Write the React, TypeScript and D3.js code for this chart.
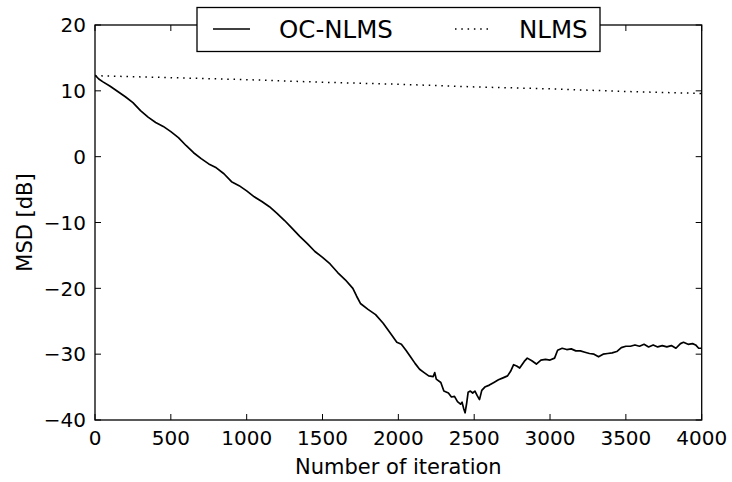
import React from "react";
import * as d3 from "d3";

const ocIter = [0, 25, 50, 100, 150, 200, 250, 300, 350, 400, 450, 500, 550, 600, 650, 700, 750, 800, 850, 900, 950, 1000, 1050, 1100, 1150, 1200, 1250, 1300, 1350, 1400, 1450, 1500, 1550, 1600, 1650, 1700, 1725, 1750, 1800, 1850, 1900, 1950, 1990, 2020, 2050, 2080, 2110, 2140, 2170, 2200, 2230, 2240, 2250, 2280, 2300, 2330, 2350, 2370, 2390, 2410, 2420, 2430, 2440, 2450, 2460, 2475, 2490, 2505, 2520, 2535, 2550, 2570, 2600, 2630, 2660, 2690, 2720, 2740, 2760, 2780, 2800, 2830, 2850, 2880, 2910, 2940, 2970, 3000, 3030, 3050, 3080, 3110, 3140, 3170, 3200, 3230, 3260, 3290, 3320, 3350, 3380, 3410, 3440, 3470, 3500, 3530, 3560, 3590, 3620, 3650, 3680, 3710, 3740, 3770, 3800, 3830, 3860, 3880, 3910, 3940, 3960, 3980, 4000];
const ocMsd = [12.4, 11.8, 11.4, 10.7, 9.9, 9.1, 8.2, 7.0, 6.0, 5.2, 4.6, 3.8, 2.9, 1.7, 0.6, -0.3, -1.1, -1.7, -2.6, -3.8, -4.4, -5.2, -6.1, -6.8, -7.6, -8.6, -9.7, -10.9, -12.1, -13.2, -14.4, -15.3, -16.3, -17.6, -18.7, -20.0, -21.2, -22.3, -23.2, -24.0, -25.3, -26.9, -28.2, -28.5, -29.4, -30.4, -31.4, -32.3, -32.8, -33.3, -33.4, -32.8, -33.8, -34.3, -35.6, -35.9, -36.5, -36.4, -37.2, -37.6, -37.3, -38.2, -38.9, -37.5, -35.8, -35.6, -35.9, -35.6, -36.3, -36.9, -35.5, -35.0, -34.7, -34.3, -33.9, -33.6, -33.3, -32.6, -31.6, -31.8, -32.1, -31.1, -30.6, -31.0, -31.5, -30.9, -30.8, -30.9, -30.6, -29.4, -29.1, -29.3, -29.2, -29.5, -29.5, -29.7, -29.9, -30.0, -30.4, -30.0, -29.9, -29.8, -29.6, -29.0, -28.8, -28.8, -28.6, -28.8, -28.5, -28.9, -28.6, -28.9, -28.7, -28.9, -28.7, -29.1, -28.4, -28.2, -28.5, -28.4, -28.6, -29.1, -29.1];

const nlmsIter = [0, 500, 1000, 1500, 2000, 2500, 3000, 3500, 4000];
const nlmsMsd = [12.3, 12.0, 11.7, 11.3, 11.0, 10.6, 10.3, 9.9, 9.6];

const xTicks = [0, 500, 1000, 1500, 2000, 2500, 3000, 3500, 4000];
const yTicks = [-40, -30, -20, -10, 0, 10, 20];
const seriesNames = ["OC-NLMS", "NLMS"];

const L = 95, R = 701.7, T = 25, B = 420;
const FONT = "'DejaVu Sans', sans-serif";

export default function App() {
  const x = d3.scaleLinear().domain([0, 4000]).range([L, R]);
  const y = d3.scaleLinear().domain([-40, 20]).range([B, T]);
  const line = d3.line<[number, number]>().x(d => x(d[0])).y(d => y(d[1]));
  const ocData: [number, number][] = ocIter.map((v, i) => [v, ocMsd[i]]);
  const nlData: [number, number][] = nlmsIter.map((v, i) => [v, nlmsMsd[i]]);
  const fmt = (v: number) => (v < 0 ? "\u2212" + Math.abs(v) : String(v));
  const tl = 6;
  return (
    <svg width={732} height={482} style={{ position: "absolute", left: 0, top: 0, background: "#fff" }} fontFamily={FONT}>
      <defs>
        <clipPath id="plotclip"><rect x={L} y={T} width={R - L} height={B - T} /></clipPath>
      </defs>
      <g clipPath="url(#plotclip)" fill="none">
        <path d={line(nlData) || ""} stroke="#000" strokeWidth={1.5} strokeDasharray="1.5,4.8" />
        <path d={line(ocData) || ""} stroke="#000" strokeWidth={1.7} strokeLinejoin="round" />
      </g>
      <rect x={L} y={T} width={R - L} height={B - T} fill="none" stroke="#000" strokeWidth={1.3} />
      {xTicks.map(t => (
        <g key={"x" + t}>
          <line x1={x(t)} x2={x(t)} y1={B} y2={B - tl} stroke="#000" strokeWidth={1} />
          <line x1={x(t)} x2={x(t)} y1={T} y2={T + tl} stroke="#000" strokeWidth={1} />
          <text x={x(t)} y={445} textAnchor="middle" fontSize={20}>{fmt(t)}</text>
        </g>
      ))}
      {yTicks.map(t => (
        <g key={"y" + t}>
          <line x1={L} x2={L + tl} y1={y(t)} y2={y(t)} stroke="#000" strokeWidth={1} />
          <line x1={R} x2={R - tl} y1={y(t)} y2={y(t)} stroke="#000" strokeWidth={1} />
          <text x={86} y={y(t) + 7.3} textAnchor="end" fontSize={20}>{fmt(t)}</text>
        </g>
      ))}
      <text x={(L + R) / 2} y={474} textAnchor="middle" fontSize={21}>Number of iteration</text>
      <text transform={`translate(31.5,${(T + B) / 2}) rotate(-90)`} textAnchor="middle" fontSize={21}>MSD [dB]</text>
      <g>
        <rect x={197} y={7.5} width={403} height={44} fill="#fff" stroke="#000" strokeWidth={1.3} />
        <line x1={213} x2={250} y1={29} y2={29} stroke="#000" strokeWidth={1.5} />
        <text x={279} y={38} fontSize={24.5}>{seriesNames[0]}</text>
        <line x1={455} x2={492} y1={29} y2={29} stroke="#000" strokeWidth={1.5} strokeDasharray="1.5,4.8" />
        <text x={519} y={38} fontSize={24.5}>{seriesNames[1]}</text>
      </g>
    </svg>
  );
}
